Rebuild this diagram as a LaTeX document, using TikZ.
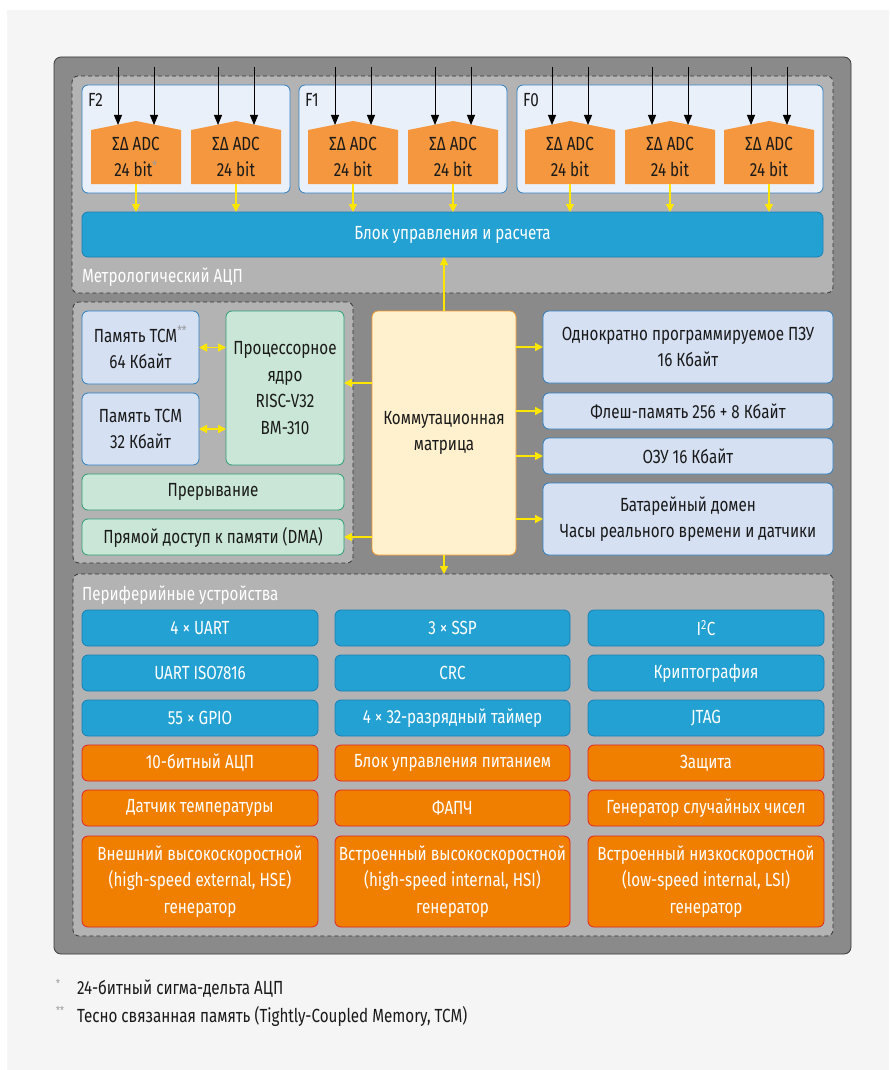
\documentclass[tikz,border=0pt]{standalone}
\usepackage{fontspec}
\setmainfont{Fira Sans}[FakeStretch=0.80]
\usetikzlibrary{arrows.meta,calc}
\definecolor{pagebg}{HTML}{F5F5F5}
\definecolor{darkbox}{HTML}{8A8A8A}
\definecolor{darkline}{HTML}{3A3A3A}
\definecolor{grayfill}{HTML}{B3B3B3}
\definecolor{dashline}{HTML}{333333}
\definecolor{ffill}{HTML}{EAF0F9}
\definecolor{fline}{HTML}{2F7FC1}
\definecolor{adcfill}{HTML}{F5973E}
\definecolor{barfill}{HTML}{24A1D3}
\definecolor{barline}{HTML}{1A7FB5}
\definecolor{memfill}{HTML}{D5E0F3}
\definecolor{grnfill}{HTML}{C9E6D6}
\definecolor{grnline}{HTML}{2E9E77}
\definecolor{mtxfill}{HTML}{FFF1CE}
\definecolor{mtxline}{HTML}{F39A32}
\definecolor{orfill}{HTML}{F07F00}
\definecolor{orline}{HTML}{E02424}
\definecolor{yel}{HTML}{FFE600}
\definecolor{txt}{HTML}{1A1A1A}
\definecolor{starc}{HTML}{9A9A9A}
\newcommand\mybox[7]{\node[#1, minimum width={#5pt-#3pt}, minimum height={#6pt-#4pt}] (#2) at ({(#3+#5)/2},{(#4+#6)/2}) {#7};}
\newcommand\fnstar[1]{\textsuperscript{\textcolor{starc}{#1}}}
\begin{document}
\begin{tikzpicture}[x=1pt,y=-1pt,
  every node/.style={inner sep=0pt, outer sep=0pt, font=\fontsize{19}{26.5}\selectfont, text=txt, align=center},
  container/.style={draw=dashline, fill=grayfill, dashed, dash pattern=on 4pt off 3pt, line width=0.8pt, rounded corners=6pt},
  fbox/.style={draw=fline, fill=ffill, line width=0.8pt, rounded corners=6pt},
  bluebox/.style={draw=barline, fill=barfill, line width=0.8pt, rounded corners=6pt, text=white},
  membox/.style={draw=fline, fill=memfill, line width=0.8pt, rounded corners=6pt},
  grnbox/.style={draw=grnline, fill=grnfill, line width=0.8pt, rounded corners=6pt},
  mtxbox/.style={draw=mtxline, fill=mtxfill, line width=0.8pt, rounded corners=6pt},
  orbox/.style={draw=orline, fill=orfill, line width=0.8pt, rounded corners=6pt, text=white},
  adctext/.style={minimum width=90pt, minimum height=54pt},
  lbl/.style={anchor=west, text=white},
  ya/.style={draw=yel, line width=1.4pt, -{Triangle[length=8pt,width=8pt]}},
  yab/.style={draw=yel, line width=1.4pt, {Triangle[length=8pt,width=8pt]}-{Triangle[length=8pt,width=8pt]}},
  ba/.style={draw=black, line width=1pt, -{Triangle[length=10pt,width=8pt]}}
]
\useasboundingbox (0,0) rectangle (889,1070);
\fill[pagebg] (7,10) rectangle (889,1070);
% outer chip
\mybox{draw=darkline, fill=darkbox, line width=0.8pt, rounded corners=7pt}{chip}{54}{57}{851}{954}{}
% metrology
\mybox{container}{metro}{72}{76}{833}{293}{}
\mybox{fbox}{f2}{82}{85}{290}{193}{}
\mybox{fbox}{f1}{299}{85}{507}{193}{}
\mybox{fbox}{f0}{517}{85}{823}{193}{}
\node[anchor=west] (lf2) at (88,100) {F2};
\node[anchor=west] (lf1) at (305,100) {F1};
\node[anchor=west] (lf0) at (523,100) {F0};
\mybox{bluebox}{bar}{82}{212}{823}{257}{Блок управления и расчета}
\node[lbl] (lmetro) at (82,277) {Метрологический АЦП};
\foreach \n/\cx/\s in {1/136/\fnstar{*},2/236/{},3/353/{},4/453/{},5/570/{},6/670/{},7/769/{}}{
  \fill[adcfill] (\cx-45,184) -- (\cx+45,184) -- (\cx+45,130) -- (\cx,121) -- (\cx-45,130) -- cycle;
  \node[adctext] (adc\n) at (\cx,157) {ΣΔ ADC\\24 bit\s};
  \coordinate (ina\n) at (\cx-18,67);
  \coordinate (inb\n) at (\cx+18,67);
  \draw[ba] (ina\n) -- ($(adc\n.north)+(-18,-5)$);
  \draw[ba] (inb\n) -- ($(adc\n.north)+(18,-5)$);
  \draw[ya] (adc\n.south) -- (adc\n.south |- bar.north);
}
% core section
\mybox{container}{ctrl}{73}{302}{353}{563}{}
\mybox{membox}{tcma}{82}{311}{199}{384}{Память TCM\fnstar{**}\\64 Кбайт}
\mybox{membox}{tcmb}{82}{393}{199}{465}{Память TCM\\32 Кбайт}
\mybox{grnbox}{core}{226}{311}{344}{465}{Процессорное\\ядро\\RISC-V32\\BM-310}
\mybox{grnbox}{irq}{82}{474}{344}{510}{Прерывание}
\mybox{grnbox}{dma}{82}{519}{344}{555}{Прямой доступ к памяти (DMA)}
\mybox{mtxbox}{mtx}{372}{311}{516}{555}{Коммутационная\\матрица}
\mybox{membox}{otp}{543}{311}{833}{383}{Однократно программируемое ПЗУ\\16 Кбайт}
\mybox{membox}{flash}{543}{393}{833}{429}{Флеш-память 256 + 8 Кбайт}
\mybox{membox}{ram}{543}{438}{833}{474}{ОЗУ 16 Кбайт}
\mybox{membox}{bat}{543}{483}{833}{555}{Батарейный домен\\Часы реального времени и датчики}
% peripherals
\mybox{container}{periph}{73}{574}{833}{936}{}
\node[lbl] (lperiph) at (82,595) {Периферийные устройства};
\mybox{bluebox}{p11}{82}{610}{318}{646}{4 × UART}
\mybox{bluebox}{p12}{335}{610}{570}{646}{3 × SSP}
\mybox{bluebox}{p13}{588}{610}{824}{646}{I\textsuperscript{2}C}
\mybox{bluebox}{p21}{82}{655}{318}{691}{UART ISO7816}
\mybox{bluebox}{p22}{335}{655}{570}{691}{CRC}
\mybox{bluebox}{p23}{588}{655}{824}{691}{Криптография}
\mybox{bluebox}{p31}{82}{700}{318}{736}{55 × GPIO}
\mybox{bluebox}{p32}{335}{700}{570}{736}{4 × 32-разрядный таймер}
\mybox{bluebox}{p33}{588}{700}{824}{736}{JTAG}
\mybox{orbox}{p41}{82}{745}{318}{781}{10-битный АЦП}
\mybox{orbox}{p42}{335}{745}{570}{781}{Блок управления питанием}
\mybox{orbox}{p43}{588}{745}{824}{781}{Защита}
\mybox{orbox}{p51}{82}{790}{318}{826}{Датчик температуры}
\mybox{orbox}{p52}{335}{790}{570}{826}{ФАПЧ}
\mybox{orbox}{p53}{588}{790}{824}{826}{Генератор случайных чисел}
\mybox{orbox}{p61}{82}{836}{318}{927}{Внешний высокоскоростной\\(high-speed external, HSE)\\генератор}
\mybox{orbox}{p62}{335}{836}{570}{927}{Встроенный высокоскоростной\\(high-speed internal, HSI)\\генератор}
\mybox{orbox}{p63}{588}{836}{824}{927}{Встроенный низкоскоростной\\(low-speed internal, LSI)\\генератор}
% connectors
\draw[yab] (tcma.east) -- (tcma.east -| core.west);
\draw[yab] (tcmb.east) -- (tcmb.east -| core.west);
\draw[ya] ([yshift=5pt]core.east -| mtx.west) -- ([yshift=5pt]core.east);
\draw[ya] (dma.east -| mtx.west) -- (dma.east);
\draw[ya] (otp.west -| mtx.east) -- (otp.west);
\draw[ya] (flash.west -| mtx.east) -- (flash.west);
\draw[ya] (ram.west -| mtx.east) -- (ram.west);
\draw[ya] (bat.west -| mtx.east) -- (bat.west);
\draw[ya] (mtx.north) -- (mtx.north |- bar.south);
\draw[ya] (mtx.south) -- (mtx.south |- periph.north);
% footnotes
\node[text=starc, font=\fontsize{11}{12}\selectfont] (s1) at (58,983) {*};
\node[anchor=west] (fn1) at (77,989) {24-битный сигма-дельта АЦП};
\node[text=starc, font=\fontsize{11}{12}\selectfont] (s2) at (60,1010) {**};
\node[anchor=west] (fn2) at (77,1016) {Тесно связанная память (Tightly-Coupled Memory, TCM)};
\end{tikzpicture}
\end{document}
